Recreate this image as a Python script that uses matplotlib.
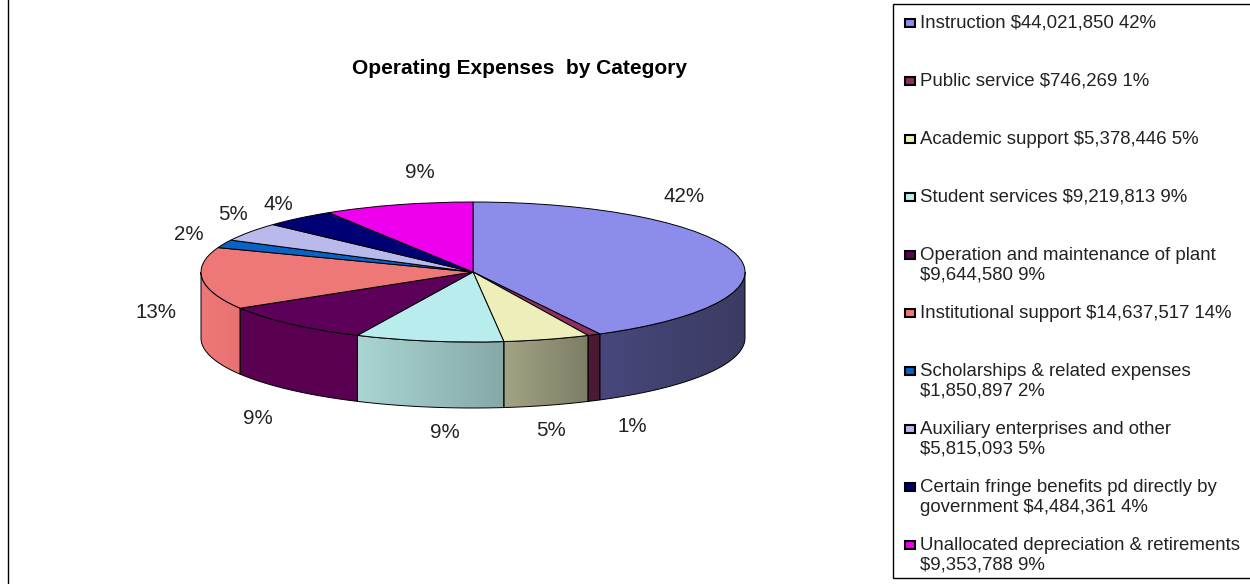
import numpy as np
import matplotlib
matplotlib.use('Agg')
import matplotlib.pyplot as plt
from matplotlib.colors import to_rgb
from matplotlib.patches import Polygon, Rectangle

plt.rcParams['font.family'] = ['Liberation Sans', 'DejaVu Sans']

amounts = [44021850, 746269, 5378446, 9219813, 9644580,
           14637517, 1850897, 5815093, 4484361, 9353788]
pie_labels = ['42%', '1%', '5%', '9%', '9%', '13%', '2%', '5%', '4%', '9%']
legend_labels = ['Instruction $44,021,850 42%',
                 'Public service $746,269 1%',
                 'Academic support $5,378,446 5%',
                 'Student services $9,219,813 9%',
                 'Operation and maintenance of plant\n$9,644,580 9%',
                 'Institutional support $14,637,517 14%',
                 'Scholarships & related expenses\n$1,850,897 2%',
                 'Auxiliary enterprises and other\n$5,815,093 5%',
                 'Certain fringe benefits pd directly by\ngovernment $4,484,361 4%',
                 'Unallocated depreciation & retirements\n$9,353,788 9%']
top_colors = ['#8c8ceb', '#8f2f60', '#eeeebb', '#b9eded', '#5c0059',
              '#ee7777', '#0a62c4', '#b9b9ec', '#000075', '#ee00ee']
side_left = ['#47477c', '#4a1a35', '#a3a385', '#a9d5d2', '#5a0050',
             '#ee7777', '#0a62c4', '#b9b9ec', '#000075', '#ee00ee']
side_right = ['#3b3b62', '#4a1a35', '#7d7d66', '#86a9a8', '#5a0050',
              '#e87272', '#0a62c4', '#b9b9ec', '#000075', '#ee00ee']

# Label centres in pixels
label_x = [684, 632, 551, 445, 258, 156, 189, 233, 278, 420]
label_y = [197, 427, 431, 432, 419, 313, 234, 215, 205, 173]

# The original's perspective moves each slice edge round a little (degrees)
edge_shift = [0, 1.5, 1.7, 1.8, 1.9, 2.6, 4.0, 4.4, 0, 0, 0]

W, H = 1250, 584
fig = plt.figure(figsize=(W / 100, H / 100), dpi=100)

# Pie axes squeezed to the flat ellipse
cx, cy, rx, ry = 473, 272, 272, 70
depth = 66 / ry
pie_ax = fig.add_axes([(cx - rx) / W, 1 - (cy + ry) / H, 2 * rx / W, 2 * ry / H])

fractions = np.array(amounts) / sum(amounts)
edges = np.concatenate([[0], np.cumsum(fractions)]) * 2 * np.pi
edges = edges + np.radians(edge_shift)

# Side wall first, only the front half is visible
for i in range(len(amounts)):
    a0 = max(edges[i], np.pi / 2)
    a1 = min(edges[i + 1], 3 * np.pi / 2)
    if a1 <= a0:
        continue
    t = np.linspace(a0, a1, 60)
    xs = np.sin(t)
    ys = np.cos(t)
    pts = np.vstack([np.column_stack([xs, ys]),
                     np.column_stack([xs, ys - depth])[::-1]])
    poly = Polygon(pts, closed=True, facecolor='none', edgecolor='black',
                   linewidth=0.7, clip_on=False, zorder=2)
    pie_ax.add_patch(poly)
    c_r = np.array(to_rgb(side_right[i]))
    c_l = np.array(to_rgb(side_left[i]))
    grad = np.linspace(c_l, c_r, 64)[None, :, :]
    img = pie_ax.imshow(grad, extent=[xs.min(), xs.max(), (ys - depth).min(), ys.max()],
                        aspect='auto', zorder=1)
    img.set_clip_path(poly)
    img.set_clip_box(fig.bbox)

pie_ax.pie(np.diff(edges), colors=top_colors, startangle=90, counterclock=False, radius=1,
           wedgeprops={'edgecolor': 'black', 'linewidth': 0.7, 'clip_on': False, 'zorder': 3})
pie_ax.set_aspect('auto')
pie_ax.set_xlim(-1, 1)
pie_ax.set_ylim(-1, 1)
pie_ax.axis('off')

# Overlay in pixel coordinates for all the text
ax = fig.add_axes([0, 0, 1, 1])
ax.set_xlim(0, W)
ax.set_ylim(H, 0)
ax.axis('off')
ax.patch.set_alpha(0)

ax.text(519, 68, 'Operating Expenses  by Category', fontsize=15.05, fontweight='bold',
        ha='center', va='center')
for x, y, s in zip(label_x, label_y, pie_labels):
    ax.text(x, y, s, fontsize=14.8, ha='center', va='center', color='#222222')

ax.plot([8, 8], [0, H], color='black', linewidth=1)
ax.add_patch(Rectangle((893, 4), 358, 574, facecolor='white', edgecolor='black', linewidth=1,
                       clip_on=False))

for i, s in enumerate(legend_labels):
    y = 23 + 58 * i
    ax.add_patch(Rectangle((905, y - 4), 10, 8, facecolor=top_colors[i],
                           edgecolor='black', linewidth=1.5))
    ax.text(920, y - 8, s, fontsize=13.45, ha='left', va='top', color='#222222',
            linespacing=1.22)

fig.savefig('out.png', dpi=100)
